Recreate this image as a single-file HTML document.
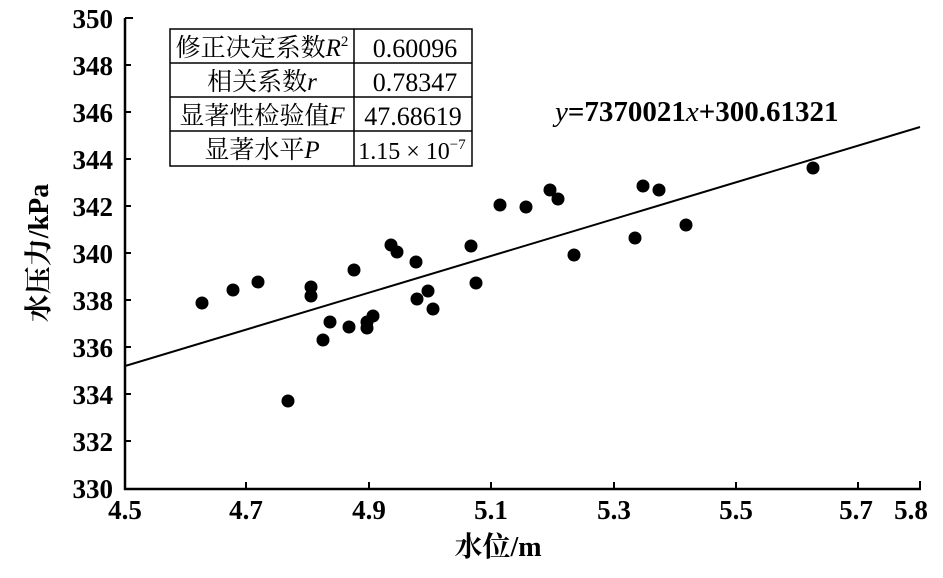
<!DOCTYPE html>
<html><head><meta charset="utf-8"><style>
body{margin:0;background:#fff;}
svg text{font-family:"Liberation Serif","Noto Serif CJK SC",serif;fill:#000;}
</style></head><body>
<svg width="943" height="573" viewBox="0 0 943 573" xmlns="http://www.w3.org/2000/svg">
<g stroke="#000" stroke-width="2.5" fill="none">
<line x1="125" y1="18" x2="125" y2="490"/>
<line x1="124" y1="489" x2="921" y2="489"/>
</g>
<g stroke="#000" stroke-width="2">
<line x1="125" y1="18" x2="133" y2="18"/><line x1="125" y1="65" x2="131" y2="65"/><line x1="125" y1="112" x2="131" y2="112"/><line x1="125" y1="159" x2="131" y2="159"/><line x1="125" y1="206" x2="131" y2="206"/><line x1="125" y1="253" x2="131" y2="253"/><line x1="125" y1="300" x2="131" y2="300"/><line x1="125" y1="347" x2="131" y2="347"/><line x1="125" y1="394" x2="131" y2="394"/><line x1="125" y1="441" x2="131" y2="441"/>
<line x1="246" y1="489" x2="246" y2="482"/><line x1="369" y1="489" x2="369" y2="482"/><line x1="491" y1="489" x2="491" y2="482"/><line x1="614" y1="489" x2="614" y2="482"/><line x1="736" y1="489" x2="736" y2="482"/><line x1="858" y1="489" x2="858" y2="482"/><line x1="920" y1="489" x2="920" y2="481"/>
</g>
<g font-size="27" font-weight="bold" text-anchor="end">
<text x="113" y="28">350</text><text x="113" y="75">348</text><text x="113" y="122">346</text><text x="113" y="169">344</text><text x="113" y="216">342</text><text x="113" y="263">340</text><text x="113" y="310">338</text><text x="113" y="357">336</text><text x="113" y="404">334</text><text x="113" y="451">332</text><text x="113" y="498">330</text>
</g>
<g font-size="27" font-weight="bold" text-anchor="middle">
<text x="125" y="519">4.5</text><text x="246" y="519">4.7</text><text x="369" y="519">4.9</text><text x="491" y="519">5.1</text><text x="614" y="519">5.3</text><text x="736" y="519">5.5</text><text x="856" y="519">5.7</text><text x="911" y="519">5.8</text>
<text x="498" y="556" font-size="28">水位/m</text>
<text transform="translate(48,253) rotate(-90)" font-size="28">水压力/kPa</text>
</g>
<line x1="125" y1="366" x2="920" y2="127" stroke="#000" stroke-width="2"/>
<g fill="#000">
<circle cx="202" cy="303" r="6.5"/><circle cx="233" cy="290" r="6.5"/><circle cx="258" cy="282" r="6.5"/><circle cx="288" cy="401" r="6.5"/><circle cx="311" cy="287" r="6.5"/><circle cx="311" cy="296" r="6.5"/><circle cx="330" cy="322" r="6.5"/><circle cx="323" cy="340" r="6.5"/><circle cx="349" cy="327" r="6.5"/><circle cx="354" cy="270" r="6.5"/><circle cx="367" cy="328" r="6.5"/><circle cx="367" cy="322" r="6.5"/><circle cx="373" cy="316" r="6.5"/><circle cx="391" cy="245" r="6.5"/><circle cx="397" cy="252" r="6.5"/><circle cx="416" cy="262" r="6.5"/><circle cx="417" cy="299" r="6.5"/><circle cx="428" cy="291" r="6.5"/><circle cx="433" cy="309" r="6.5"/><circle cx="471" cy="246" r="6.5"/><circle cx="476" cy="283" r="6.5"/><circle cx="500" cy="205" r="6.5"/><circle cx="526" cy="207" r="6.5"/><circle cx="550" cy="190" r="6.5"/><circle cx="558" cy="199" r="6.5"/><circle cx="574" cy="255" r="6.5"/><circle cx="635" cy="238" r="6.5"/><circle cx="643" cy="186" r="6.5"/><circle cx="659" cy="190" r="6.5"/><circle cx="686" cy="225" r="6.5"/><circle cx="813" cy="168" r="6.5"/>
</g>
<text x="555" y="121" font-size="29"><tspan font-style="italic">y</tspan><tspan font-weight="bold">=7370021</tspan><tspan font-style="italic">x</tspan><tspan font-weight="bold">+300.61321</tspan></text>
<g stroke="#000" stroke-width="1.5" fill="none">
<rect x="170" y="29" width="302" height="137"/>
<line x1="170" y1="63" x2="472" y2="63"/><line x1="170" y1="97" x2="472" y2="97"/><line x1="170" y1="131" x2="472" y2="131"/>
<line x1="354" y1="29" x2="354" y2="166"/>
</g>
<g font-size="25" text-anchor="middle">
<text x="262" y="56">修正决定系数<tspan font-style="italic">R</tspan><tspan font-size="15" dy="-10">2</tspan></text>
<text x="262" y="90">相关系数<tspan font-style="italic">r</tspan></text>
<text x="262" y="124">显著性检验值<tspan font-style="italic">F</tspan></text>
<text x="262" y="158">显著水平<tspan font-style="italic">P</tspan></text>
<text x="415" y="57" font-size="26">0.60096</text>
<text x="415" y="91" font-size="26">0.78347</text>
<text x="413" y="125" font-size="26">47.68619</text>
<text x="412" y="159" font-size="24">1.15 × 10<tspan font-size="15" dy="-10">−7</tspan></text>
</g>
</svg>
</body></html>
